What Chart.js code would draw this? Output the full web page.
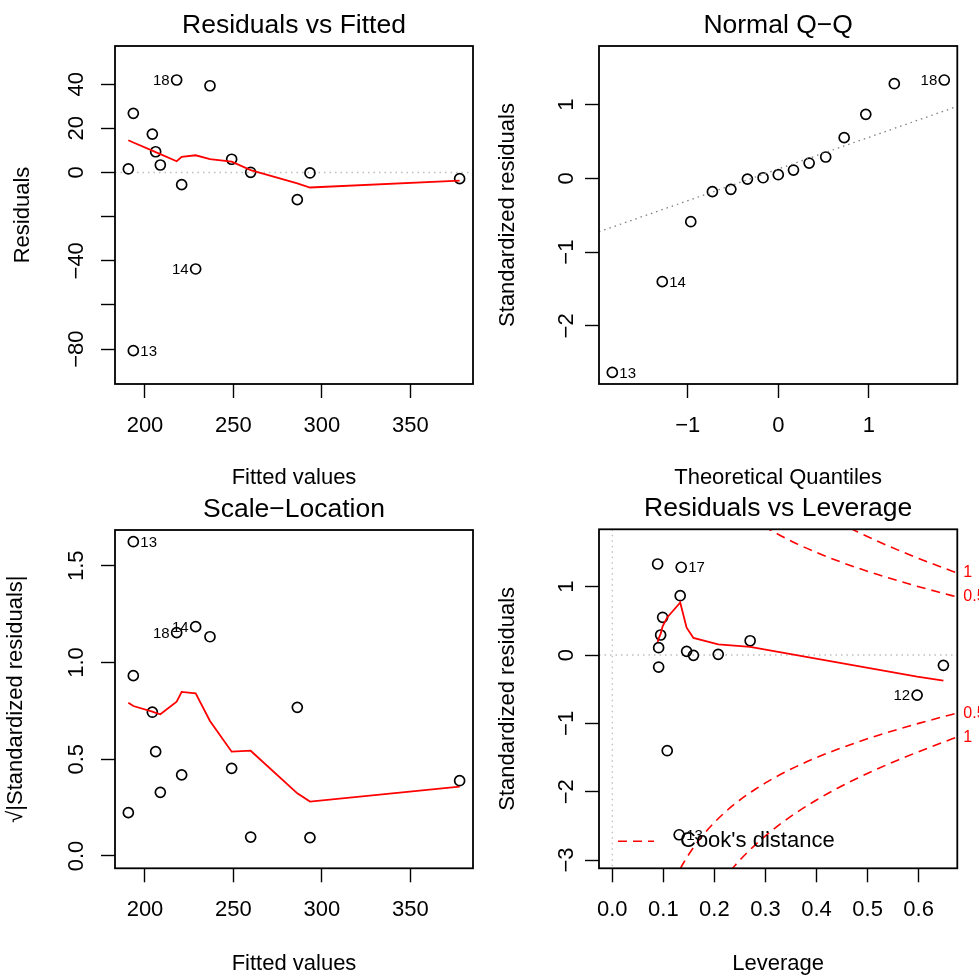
<!DOCTYPE html>
<html>
<head>
<meta charset="utf-8">
<title>lm diagnostics</title>
<script src="https://cdn.jsdelivr.net/npm/chart.js@4.4.1/dist/chart.umd.min.js"></script>
<style>
  html, body { margin: 0; padding: 0; background: #ffffff; }
  #wrap { position: relative; width: 979px; height: 977px; overflow: hidden; background: #ffffff; }
  canvas { position: absolute; }
</style>
</head>
<body>
<div id="wrap">
  <canvas id="c1" width="489" height="489" style="left:0px;top:0px"></canvas>
  <canvas id="c2" width="490" height="489" style="left:489px;top:0px"></canvas>
  <canvas id="c3" width="489" height="488" style="left:0px;top:489px"></canvas>
  <canvas id="c4" width="490" height="488" style="left:489px;top:489px"></canvas>
</div>
<script>
const FONT = '"Liberation Sans", Arial, Helvetica, sans-serif';
const MINUS = '\u2212';

// ---- Residuals vs Fitted ----
const fitted    = [190.58, 193.40, 217.90, 236.74, 204.15, 206.03, 208.67, 220.73, 248.99, 259.74, 286.11, 293.27, 377.88, 228.64, 193.40];
const residuals = [1.6, 26.8, 41.9, 39.3, 17.4, 9.4, 3.4, -5.5, 6.0, 0.1, -12.3, -0.2, -2.8, -43.7, -80.7];
const residIds  = [[2, '18', 'left'], [13, '14', 'left'], [14, '13', 'right']];
const fittedSorted = [190.58, 193.40, 193.40, 204.15, 206.03, 208.67, 217.90, 220.73, 228.64, 236.74, 248.99, 259.74, 286.11, 293.27, 377.88];
const residSmooth  = [14.6, 13.6, 13.6, 9.9, 9.2, 8.3, 5.1, 7.1, 7.8, 6.1, 4.9, 1.1, -4.9, -6.8, -3.7];
const fittedTicks  = [200, 250, 300, 350];
const fittedLabels = ['200', '250', '300', '350'];
const residTicks   = [-80, -60, -40, -20, 0, 20, 40];
const residLabels  = [MINUS + '80', '', MINUS + '40', '', '0', '20', '40'];

// ---- Normal Q-Q ----
const theoQuant   = [-1.834, -1.282, -0.967, -0.728, -0.524, -0.341, -0.168, 0, 0.168, 0.341, 0.524, 0.728, 0.967, 1.282, 1.834];
const stdResSorted = [-2.63, -1.40, -0.588, -0.181, -0.149, -0.010, 0.008, 0.049, 0.112, 0.207, 0.289, 0.551, 0.867, 1.282, 1.332];
const qqIds = [[0, '13', 'right'], [1, '14', 'right'], [14, '18', 'left']];
const qqLineX = [-1.981, 1.978];
const qqLineY = [-0.724, 0.975];
const qTicks  = [-1, 0, 1];
const qLabels = [MINUS + '1', '0', '1'];
const srTicks  = [-2, -1, 0, 1];
const srLabels = [MINUS + '2', MINUS + '1', '0', '1'];

// ---- Scale-Location ----
const sqrtAbsStdRes = [0.224, 0.932, 1.154, 1.133, 0.743, 0.539, 0.329, 0.419, 0.453, 0.098, 0.768, 0.095, 0.389, 1.185, 1.624];
const scaleIds = [[2, '18', 'left'], [13, '14', 'left'], [14, '13', 'right']];
const scaleSmooth = [0.792, 0.775, 0.775, 0.746, 0.740, 0.732, 0.797, 0.848, 0.841, 0.698, 0.539, 0.544, 0.324, 0.281, 0.358];
const slTicks  = [0, 0.5, 1.0, 1.5];
const slLabels = ['0.0', '0.5', '1.0', '1.5'];

// ---- Residuals vs Leverage ----
const leverage  = [0.0888, 0.135, 0.133, 0.0986, 0.0947, 0.0908, 0.0908, 0.1456, 0.159, 0.2075, 0.270, 0.6485, 0.597, 0.1076, 0.131];
const stdResLev = [1.332, 1.284, 0.868, 0.552, 0.293, 0.107, -0.176, 0.054, -0.005, 0.010, 0.209, -0.151, -0.586, -1.400, -2.630];
const levIds = [[1, '17', 'right'], [12, '12', 'left'], [14, '13', 'right']];
const levSorted = [0.0888, 0.0908, 0.0908, 0.0947, 0.0986, 0.1076, 0.131, 0.133, 0.135, 0.1456, 0.159, 0.2075, 0.270, 0.597, 0.6485];
const levSmooth = [0.19, 0.24, 0.24, 0.31, 0.42, 0.55, 0.75, 0.77, 0.71, 0.40, 0.25, 0.157, 0.118, -0.317, -0.376];
// Cook's distance contours (D = 0.5 and D = 1), upper branch
const cookH   = [0.12, 0.13, 0.14, 0.15, 0.16, 0.18, 0.20, 0.22, 0.24, 0.26, 0.28, 0.30, 0.33, 0.36, 0.40, 0.44, 0.48, 0.52, 0.56, 0.60, 0.64, 0.675];
const cookHalf = [3.317, 3.168, 3.036, 2.915, 2.806, 2.614, 2.449, 2.306, 2.179, 2.066, 1.964, 1.871, 1.745, 1.633, 1.500, 1.382, 1.275, 1.177, 1.086, 1.000, 0.919, 0.850];
const cookOne  = [4.690, 4.480, 4.293, 4.123, 3.969, 3.697, 3.464, 3.262, 3.082, 2.922, 2.777, 2.646, 2.468, 2.309, 2.121, 1.954, 1.803, 1.664, 1.535, 1.414, 1.299, 1.202];
const cookLevels = ['0.5', '1'];
const levTicks  = [0, 0.1, 0.2, 0.3, 0.4, 0.5, 0.6];
const levLabels = ['0.0', '0.1', '0.2', '0.3', '0.4', '0.5', '0.6'];
const slrTicks  = [-3, -2, -1, 0, 1];
const slrLabels = [MINUS + '3', MINUS + '2', MINUS + '1', '0', '1'];

const pts = (xs, ys) => xs.map((v, i) => ({ x: v, y: ys[i] }));

function circles(xs, ys) {
  return {
    data: pts(xs, ys), showLine: false, pointStyle: 'circle', pointRadius: 5,
    pointBorderWidth: 1.7, pointBorderColor: '#000000', pointBackgroundColor: 'rgba(0,0,0,0)', clip: 6
  };
}
function path(xs, ys, color, width, dash, smooth) {
  return {
    data: pts(xs, ys), showLine: true, pointRadius: 0, borderColor: color, borderWidth: width,
    borderDash: dash || [], clip: 0, cubicInterpolationMode: smooth ? 'monotone' : 'default', tension: 0
  };
}

function axis(dir, a) {
  return {
    type: 'linear', position: dir === 'x' ? 'bottom' : 'left',
    min: a.min, max: a.max,
    border: { display: false },
    grid: { drawOnChartArea: false, drawTicks: true, tickLength: 14, color: '#000000', tickColor: '#000000', tickWidth: 1.4 },
    ticks: dir === 'x'
      ? { display: true, autoSkip: false, maxRotation: 0, minRotation: 0, padding: 16.5, color: '#000000',
          font: { family: FONT, size: 22, lineHeight: 1 }, callback: (v, i) => a.labels[i] }
      : { display: false },
    title: {
      display: true, text: a.title, color: '#000000', font: { family: FONT, size: 22, lineHeight: 1 },
      padding: dir === 'x' ? { top: 0, bottom: a.titlePad } : { top: a.titlePad, bottom: 0 }
    },
    afterBuildTicks: sc => { sc.ticks = a.ticks.map(v => ({ value: v })); },
    afterFit: sc => { if (dir === 'x') sc.height = a.size; else sc.width = a.size; }
  };
}

function panel(id, cfg) {
  const deco = {
    id: 'deco',
    beforeDatasetsDraw(chart) {
      const { ctx, chartArea: a, scales: { x, y } } = chart;
      ctx.save();
      ctx.beginPath(); ctx.rect(a.left, a.top, a.right - a.left, a.bottom - a.top); ctx.clip();
      ctx.strokeStyle = '#BEBEBE'; ctx.lineWidth = 1.3; ctx.setLineDash([1.5, 4]);
      (cfg.hRefs || []).forEach(v => {
        const p = y.getPixelForValue(v);
        ctx.beginPath(); ctx.moveTo(a.left, p); ctx.lineTo(a.right, p); ctx.stroke();
      });
      (cfg.vRefs || []).forEach(v => {
        const p = x.getPixelForValue(v);
        ctx.beginPath(); ctx.moveTo(p, a.top); ctx.lineTo(p, a.bottom); ctx.stroke();
      });
      ctx.restore();
    },
    afterDraw(chart) {
      const { ctx, chartArea: a, scales: { y } } = chart;
      ctx.save();
      ctx.setLineDash([]);
      ctx.strokeStyle = '#000000'; ctx.lineWidth = 1.8;
      ctx.strokeRect(a.left, a.top, a.right - a.left, a.bottom - a.top);
      ctx.fillStyle = '#000000';
      ctx.font = '26.5px ' + FONT;
      ctx.textAlign = 'center'; ctx.textBaseline = 'alphabetic';
      ctx.fillText(cfg.title, (a.left + a.right) / 2, a.top - 13);
      // y tick labels, written parallel to the axis
      ctx.font = '22px ' + FONT;
      cfg.y.ticks.forEach((v, i) => {
        const lab = cfg.y.labels[i];
        if (!lab) return;
        ctx.save();
        ctx.translate(a.left - cfg.yLabGap, y.getPixelForValue(v));
        ctx.rotate(-Math.PI / 2);
        ctx.textAlign = 'center'; ctx.textBaseline = 'alphabetic';
        ctx.fillText(lab, 0, 0);
        ctx.restore();
      });
      // observation numbers beside the flagged points
      const meta = chart.getDatasetMeta(cfg.pointSet);
      ctx.font = '15px ' + FONT; ctx.textBaseline = 'middle';
      cfg.ids.forEach(([idx, txt, side]) => {
        const el = meta.data[idx];
        ctx.textAlign = side === 'left' ? 'right' : 'left';
        ctx.fillText(txt, el.x + (side === 'left' ? -7 : 7), el.y + 1);
      });
      if (cfg.extra) cfg.extra(chart);
      ctx.restore();
    }
  };
  return new Chart(document.getElementById(id), {
    type: 'scatter',
    data: { datasets: cfg.datasets },
    options: {
      responsive: false, animation: false, events: [], devicePixelRatio: 1,
      layout: { padding: cfg.padding },
      plugins: { legend: { display: false }, tooltip: { enabled: false } },
      scales: { x: axis('x', cfg.x), y: axis('y', cfg.y) }
    },
    plugins: [deco]
  });
}

// Residuals vs Fitted
panel('c1', {
  title: 'Residuals vs Fitted',
  padding: { left: 0, top: 46, right: 16, bottom: 0 },
  x: { min: 183.04, max: 385.44, ticks: fittedTicks, labels: fittedLabels, title: 'Fitted values', titlePad: 0, size: 105 },
  y: { min: -95.8, max: 57.3, ticks: residTicks, labels: residLabels, title: 'Residuals', titlePad: 11.5, size: 115 },
  yLabGap: 31.7,
  hRefs: [0],
  datasets: [path(fittedSorted, residSmooth, '#FF0000', 1.8), circles(fitted, residuals)],
  pointSet: 1, ids: residIds
});

// Normal Q-Q
panel('c2', {
  title: 'Normal Q' + MINUS + 'Q',
  padding: { left: 0, top: 46, right: 21.7, bottom: 0 },
  x: { min: -1.981, max: 1.978, ticks: qTicks, labels: qLabels, title: 'Theoretical Quantiles', titlePad: 0, size: 105 },
  y: { min: -2.787, max: 1.793, ticks: srTicks, labels: srLabels, title: 'Standardized residuals', titlePad: 7.5, size: 110 },
  yLabGap: 25.7,
  datasets: [path(qqLineX, qqLineY, '#7F7F7F', 1.3, [1.5, 4]), circles(theoQuant, stdResSorted)],
  pointSet: 1, ids: qqIds
});

// Scale-Location
panel('c3', {
  title: 'Scale' + MINUS + 'Location',
  padding: { left: 0, top: 41, right: 16, bottom: 0 },
  x: { min: 183.04, max: 385.44, ticks: fittedTicks, labels: fittedLabels, title: 'Fitted values', titlePad: 2.2, size: 108.7 },
  y: { min: -0.0636, max: 1.6845, ticks: slTicks, labels: slLabels, title: '\u221A|Standardized residuals|', titlePad: 5, size: 115 },
  yLabGap: 31.7,
  datasets: [path(fittedSorted, scaleSmooth, '#FF0000', 1.8), circles(fitted, sqrtAbsStdRes)],
  pointSet: 1, ids: scaleIds
});

// Residuals vs Leverage
panel('c4', {
  title: 'Residuals vs Leverage',
  padding: { left: 0, top: 40.3, right: 21.7, bottom: 0 },
  x: { min: -0.026, max: 0.6757, ticks: levTicks, labels: levLabels, title: 'Leverage', titlePad: 2.2, size: 108.7 },
  y: { min: -3.1207, max: 1.8396, ticks: slrTicks, labels: slrLabels, title: 'Standardized residuals', titlePad: 7.5, size: 110 },
  yLabGap: 25.7,
  hRefs: [0], vRefs: [0],
  datasets: [
    path(levSorted, levSmooth, '#FF0000', 1.8),
    path(cookH, cookHalf, '#FF0000', 1.6, [9, 6], true),
    path(cookH, cookHalf.map(v => -v), '#FF0000', 1.6, [9, 6], true),
    path(cookH, cookOne, '#FF0000', 1.6, [9, 6], true),
    path(cookH, cookOne.map(v => -v), '#FF0000', 1.6, [9, 6], true),
    circles(leverage, stdResLev)
  ],
  pointSet: 5, ids: levIds,
  extra(chart) {
    const { ctx, chartArea: a, scales: { y } } = chart;
    // contour levels written in the right margin
    ctx.fillStyle = '#FF0000'; ctx.font = '16px ' + FONT;
    ctx.textAlign = 'left'; ctx.textBaseline = 'middle';
    const ends = [cookHalf[cookHalf.length - 1], cookOne[cookOne.length - 1]];
    ends.forEach((v, i) => {
      ctx.fillText(cookLevels[i], a.right + 6, y.getPixelForValue(v));
      ctx.fillText(cookLevels[i], a.right + 6, y.getPixelForValue(-v));
    });
    // legend
    const ly = a.bottom - 27;
    ctx.strokeStyle = '#FF0000'; ctx.lineWidth = 1.6; ctx.setLineDash([9, 6]);
    ctx.beginPath(); ctx.moveTo(a.left + 19, ly); ctx.lineTo(a.left + 55, ly); ctx.stroke();
    ctx.setLineDash([]);
    ctx.fillStyle = '#000000'; ctx.font = '22px ' + FONT;
    ctx.textAlign = 'left'; ctx.textBaseline = 'middle';
    ctx.fillText("Cook's distance", a.left + 81, ly);
  }
});
</script>
</body>
</html>
